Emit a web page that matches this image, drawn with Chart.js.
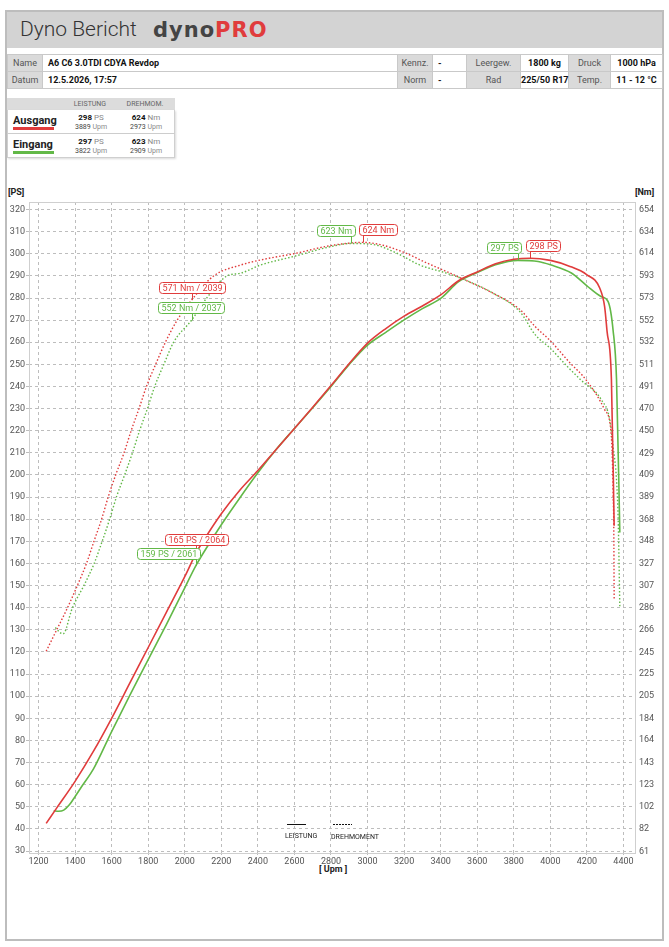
<!DOCTYPE html>
<html>
<head>
<meta charset="utf-8">
<script src="https://cdn.jsdelivr.net/npm/chart.js@4.4.1/dist/chart.umd.min.js"></script>
<style>
  body { margin: 0; width: 669px; height: 947px; background: #fff; font-family: Roboto, sans-serif; position: relative; overflow: hidden; }
  .page { position: absolute; left: 5px; top: 10px; width: 659px; height: 931px; border: 2px solid #bdbdbd; box-sizing: border-box; }
  .head { position: absolute; left: 7px; top: 12px; width: 655px; height: 36px; background: #d3d3d3; }
  .title { position: absolute; left: 20px; top: 17px; font-size: 21px; font-weight: 300; color: #333; }
  .brand { position: absolute; left: 153px; top: 18px; font-family: "DejaVu Sans", sans-serif; font-weight: bold; font-size: 21px; color: #444; letter-spacing: 1px; }
  .brand span { color: #e03c3c; }
  table.info { position: absolute; left: 7px; top: 54px; width: 655px; border-collapse: collapse; table-layout: fixed; font-size: 9px; }
  table.info td { height: 16px; padding: 0; border: 1px solid #c9c9c9; white-space: nowrap; }
  table.info td.l { background: #dadada; color: #555; text-align: center; }
  table.info td.v { font-weight: bold; color: #111; text-align: center; }
  table.info td.v.left { text-align: left; padding-left: 5px; }
  .legend { position: absolute; left: 7px; top: 98px; width: 168px; font-size: 8px; }
  .legend .hd { height: 12px; background: #dcdcdc; position: relative; color: #666; font-size: 7px; }
  .legend .hd div { position: absolute; top: 2px; width: 60px; text-align: center; }
  .legend .row { height: 23px; position: relative; border: 1px solid #cfcfcf; border-top: none; background: #fff; box-shadow: 1px 1px 2px rgba(0,0,0,0.15); }
  .legend .name { position: absolute; left: 5px; top: 4px; font-weight: bold; font-size: 11px; color: #222; }
  .legend .bar { position: absolute; left: 5px; top: 17px; width: 41px; height: 3px; }
  .legend .val { position: absolute; width: 60px; text-align: center; line-height: 9px; top: 3px; }
  .legend .val b { color: #111; }
  .legend .val i { font-style: normal; color: #888; }
  .legend .val small { font-size: 7px; color: #444; }
  .unit { position: absolute; font-size: 9px; font-weight: bold; color: #222; }
  #wrap { position: absolute; left: 0; top: 180px; width: 669px; height: 700px; }
</style>
</head>
<body>
<div class="page"></div>
<div class="head"></div>
<div class="title">Dyno Bericht</div>
<div class="brand">dyno<span>PRO</span></div>

<table class="info">
  <colgroup>
    <col style="width:35px"><col style="width:355px"><col style="width:35px"><col style="width:34px">
    <col style="width:54px"><col style="width:48px"><col style="width:42px"><col style="width:52px">
  </colgroup>
  <tr>
    <td class="l">Name</td><td class="v left">A6 C6 3.0TDI CDYA Revdop</td>
    <td class="l">Kennz.</td><td class="v left">-</td>
    <td class="l">Leergew.</td><td class="v">1800 kg</td>
    <td class="l">Druck</td><td class="v">1000 hPa</td>
  </tr>
  <tr>
    <td class="l">Datum</td><td class="v left">12.5.2026, 17:57</td>
    <td class="l">Norm</td><td class="v left">-</td>
    <td class="l">Rad</td><td class="v">225/50 R17</td>
    <td class="l">Temp.</td><td class="v">11 - 12 °C</td>
  </tr>
</table>

<div class="legend">
  <div class="hd"><div style="left:53px">LEISTUNG</div><div style="left:108px">DREHMOM.</div></div>
  <div class="row" id="rowA"></div>
  <div class="row" id="rowE"></div>
</div>

<div class="unit" style="left:8px; top:187px">[PS]</div>
<div class="unit" style="left:635px; top:187px">[Nm]</div>
<div class="unit" style="left:319px; top:864px">[ Upm ]</div>

<div id="wrap"><canvas id="dyno"></canvas></div>

<script>
// Ausgang (red) - Leistung
const ausgangPsRpm = [1242, 1300, 1400, 1500, 1600, 1700, 1800, 1900, 2000, 2064, 2100, 2200, 2300, 2400, 2500, 2600, 2700, 2800, 2900, 3000, 3100, 3200, 3300, 3400, 3500, 3600, 3700, 3800, 3889, 4000, 4100, 4200, 4270, 4297, 4310, 4334, 4349];
const ausgangPs = [42.5, 49.5, 61.5, 75, 90, 106, 122, 138, 154, 165, 170, 182.5, 193, 202, 211.5, 221, 230.6, 240.4, 250.4, 259.6, 266.2, 271.8, 276.4, 281.4, 287.9, 291.8, 295.5, 297.5, 298, 297, 294.5, 290.5, 284.5, 276, 265, 243, 177];

// Ausgang (red) - Drehmoment
const ausgangNmRpm = [1242, 1300, 1358, 1413, 1462, 1504, 1545, 1582, 1622, 1667, 1707, 1749, 1791, 1840, 1895, 1958, 2039, 2158, 2304, 2450, 2596, 2796, 2973, 3069, 3196, 3324, 3433, 3524, 3687, 3833, 3918, 4000, 4100, 4197, 4298, 4331, 4340, 4344, 4347, 4349];
const ausgangNm = [246, 266, 286, 307, 327, 348, 368, 389, 409, 429, 450, 470, 491, 511, 532, 552, 571, 593, 603, 609, 613.5, 621, 624, 622, 615, 605, 597, 590, 577, 562, 546, 533, 514, 496.5, 469, 450, 419, 388.5, 358, 294.5];

// Eingang (green) - Leistung
const eingangPsRpm = [1283, 1310, 1338, 1370, 1403, 1439, 1500, 1600, 1700, 1800, 1900, 2000, 2061, 2100, 2200, 2300, 2400, 2500, 2600, 2700, 2800, 2900, 3000, 3100, 3200, 3300, 3400, 3500, 3600, 3700, 3822, 3933, 4000, 4115, 4200, 4279, 4316, 4343, 4362, 4380];
const eingangPs = [48.2, 48, 48.5, 51, 55, 59.5, 67, 84, 100.5, 116.5, 132.5, 149, 159, 164.5, 177.5, 189.5, 201, 211.5, 221, 230.4, 240, 250, 258.7, 264.5, 270.1, 275.2, 279.8, 287.5, 291.5, 295, 297, 296.5, 295, 291.3, 285.5, 280.6, 278.4, 265.5, 243, 174];

// Eingang (green) - Drehmoment
const eingangNmRpm = [1292, 1313, 1334, 1385, 1449, 1504, 1549, 1589, 1627, 1671, 1713, 1753, 1795, 1836, 1885, 1940, 2037, 2122, 2231, 2305, 2413, 2596, 2796, 2909, 3033, 3160, 3287, 3433, 3524, 3687, 3833, 3918, 4000, 4100, 4169, 4279, 4325, 4343, 4362, 4371, 4380];
const eingangNm = [268, 264, 262, 286, 307, 327, 348, 368, 389, 409, 429, 450, 470, 491, 511, 532, 552, 573, 593, 595.5, 603, 611, 620, 623, 622, 614, 603, 595.5, 590, 577, 560, 538.5, 526, 508, 496.5, 478.5, 460, 435.5, 404, 368, 287];

// Marks: [rpm, value]
const ausgangMaxPs = [3889, 298];
const ausgangMaxNm = [2973, 624];
const ausgangMarkNm = [2039, 571];
const ausgangMarkPs = [2064, 165];
const eingangMaxPs = [3822, 297];
const eingangMaxNm = [2909, 623];
const eingangMarkNm = [2037, 552];
const eingangMarkPs = [2061, 159];

// Axis ticks
const rpmTicks = [1200, 1400, 1600, 1800, 2000, 2200, 2400, 2600, 2800, 3000, 3200, 3400, 3600, 3800, 4000, 4200, 4400];
const psTicks = [30, 40, 50, 60, 70, 80, 90, 100, 110, 120, 130, 140, 150, 160, 170, 180, 190, 200, 210, 220, 230, 240, 250, 260, 270, 280, 290, 300, 310, 320];
const nmTicks = [61, 82, 102, 123, 143, 164, 184, 205, 225, 245, 266, 286, 307, 327, 348, 368, 389, 409, 429, 450, 470, 491, 511, 532, 552, 573, 593, 614, 634, 654];

const RED = '#e03c3c';
const GREEN = '#62b847';
const NM_PER_PS = 2.045;  // right axis is linked to left one
const psMin = 29.1, psMax = 323.4;

function pts(xs, ys) {
    return xs.map((x, i) => ({ x: x, y: ys[i] }));
}

// legend table
function legendRow(id, name, color, maxPs, maxNm) {
    document.getElementById(id).innerHTML =
        '<div class="name">' + name + '</div><div class="bar" style="background:' + color + '"></div>' +
        '<div class="val" style="left:53px"><b>' + maxPs[1] + '</b> <i>PS</i><br><small>' + maxPs[0] + ' <i>Upm</i></small></div>' +
        '<div class="val" style="left:108px"><b>' + maxNm[1] + '</b> <i>Nm</i><br><small>' + maxNm[0] + ' <i>Upm</i></small></div>';
}
legendRow('rowA', 'Ausgang', RED, ausgangMaxPs, ausgangMaxNm);
legendRow('rowE', 'Eingang', GREEN, eingangMaxPs, eingangMaxNm);

const callouts = [
    { p: ausgangMaxNm, axis: 'yNm', color: RED, text: ausgangMaxNm[1] + ' Nm', align: 'left' },
    { p: eingangMaxNm, axis: 'yNm', color: GREEN, text: eingangMaxNm[1] + ' Nm', align: 'right' },
    { p: ausgangMaxPs, axis: 'y', color: RED, text: ausgangMaxPs[1] + ' PS', align: 'left' },
    { p: eingangMaxPs, axis: 'y', color: GREEN, text: eingangMaxPs[1] + ' PS', align: 'right' },
    { p: ausgangMarkNm, axis: 'yNm', color: RED, text: ausgangMarkNm[1] + ' Nm / ' + ausgangMarkNm[0], align: 'center' },
    { p: eingangMarkNm, axis: 'yNm', color: GREEN, text: eingangMarkNm[1] + ' Nm / ' + eingangMarkNm[0], align: 'center' },
    { p: ausgangMarkPs, axis: 'y', color: RED, text: ausgangMarkPs[1] + ' PS / ' + ausgangMarkPs[0], align: 'center' },
    { p: eingangMarkPs, axis: 'y', color: GREEN, text: eingangMarkPs[1] + ' PS / ' + eingangMarkPs[0], align: 'right' },
];

const dynoExtras = {
    id: 'dynoExtras',
    beforeDatasetsDraw(chart) {
        const { ctx, chartArea: a } = chart;
        ctx.save();
        ctx.strokeStyle = '#cfcfcf';
        ctx.lineWidth = 1;
        ctx.strokeRect(a.left + 0.5, a.top + 0.5, a.right - a.left, a.bottom - a.top);
        // small legend inside the plot
        ctx.strokeStyle = '#111';
        ctx.beginPath();
        ctx.moveTo(a.left + 258, a.bottom - 28.5);
        ctx.lineTo(a.left + 277, a.bottom - 28.5);
        ctx.stroke();
        ctx.setLineDash([2, 1]);
        ctx.beginPath();
        ctx.moveTo(a.left + 304, a.bottom - 28.5);
        ctx.lineTo(a.left + 323, a.bottom - 28.5);
        ctx.stroke();
        ctx.setLineDash([]);
        ctx.fillStyle = '#222';
        ctx.font = '7px Roboto';
        ctx.textBaseline = 'middle';
        ctx.fillText('LEISTUNG', a.left + 256, a.bottom - 17);
        ctx.fillText('DREHMOMENT', a.left + 302, a.bottom - 16);
        ctx.restore();
    },
    afterDatasetsDraw(chart) {
        const ctx = chart.ctx;
        ctx.save();
        ctx.font = '9px Roboto';
        callouts.forEach(c => {
            const x = chart.scales.x.getPixelForValue(c.p[0]);
            const y = chart.scales[c.axis].getPixelForValue(c.p[1]);
            const w = ctx.measureText(c.text).width + 6;
            const h = 11;
            let bx = x - w / 2;
            if (c.align === 'left') bx = x - 4;
            if (c.align === 'right') bx = x - w + 4;
            const by = y - 7 - h;
            ctx.strokeStyle = c.color;
            ctx.lineWidth = 1;
            ctx.beginPath();
            ctx.moveTo(Math.round(x) + 0.5, by + h);
            ctx.lineTo(Math.round(x) + 0.5, y);
            ctx.stroke();
            ctx.fillStyle = '#fff';
            ctx.beginPath();
            ctx.roundRect(Math.round(bx) + 0.5, Math.round(by) + 0.5, Math.round(w), h, 3);
            ctx.fill();
            ctx.stroke();
            ctx.fillStyle = c.color;
            ctx.textBaseline = 'middle';
            ctx.fillText(c.text, Math.round(bx) + 3.5, Math.round(by) + h / 2 + 1);
        });
        ctx.restore();
    }
};

Chart.defaults.font.family = 'Roboto';
Chart.defaults.font.size = 9;
Chart.defaults.color = '#555';

const lineBase = {
    pointRadius: 0,
    fill: false,
    cubicInterpolationMode: 'monotone',
};

const chart = new Chart(document.getElementById('dyno'), {
    type: 'line',
    data: {
        datasets: [
            { ...lineBase, label: 'Ausgang Leistung', data: pts(ausgangPsRpm, ausgangPs), borderColor: RED, borderWidth: 1.6, yAxisID: 'y' },
            { ...lineBase, label: 'Eingang Leistung', data: pts(eingangPsRpm, eingangPs), borderColor: GREEN, borderWidth: 1.6, yAxisID: 'y' },
            { ...lineBase, label: 'Ausgang Drehmoment', data: pts(ausgangNmRpm, ausgangNm), borderColor: RED, borderWidth: 1.4, borderDash: [1.5, 2], yAxisID: 'yNm' },
            { ...lineBase, label: 'Eingang Drehmoment', data: pts(eingangNmRpm, eingangNm), borderColor: GREEN, borderWidth: 1.4, borderDash: [1.5, 2], yAxisID: 'yNm' },
        ]
    },
    options: {
        responsive: true,
        maintainAspectRatio: false,
        animation: false,
        layout: { padding: { top: 22, left: 0, right: 0, bottom: 0 } },
        plugins: { legend: { display: false }, tooltip: { enabled: false } },
        scales: {
            x: {
                type: 'linear',
                min: 1148,
                max: 4463,
                afterBuildTicks: s => { s.ticks = rpmTicks.map(v => ({ value: v })); },
                afterFit: s => { s.height = 27; },
                ticks: { padding: 1, color: '#555', callback: v => String(v) },
                grid: { color: '#bdbdbd', tickLength: 2 },
                border: { display: false, dash: [3, 3] },
            },
            y: {
                position: 'left',
                min: psMin,
                max: psMax,
                afterBuildTicks: s => { s.ticks = psTicks.map(v => ({ value: v })); },
                afterFit: s => { s.width = 29; },
                ticks: { padding: 1, color: '#555' },
                grid: { color: '#bdbdbd', tickLength: 3 },
                border: { display: false, dash: [3, 3] },
            },
            yNm: {
                position: 'right',
                min: psMin * NM_PER_PS,
                max: psMax * NM_PER_PS,
                afterBuildTicks: s => { s.ticks = nmTicks.map(v => ({ value: v })); },
                afterFit: s => { s.width = 34; },
                ticks: { padding: 4, color: '#555' },
                grid: { display: false, drawTicks: false },
                border: { display: false },
            }
        }
    },
    plugins: [dynoExtras]
});
</script>
</body>
</html>
